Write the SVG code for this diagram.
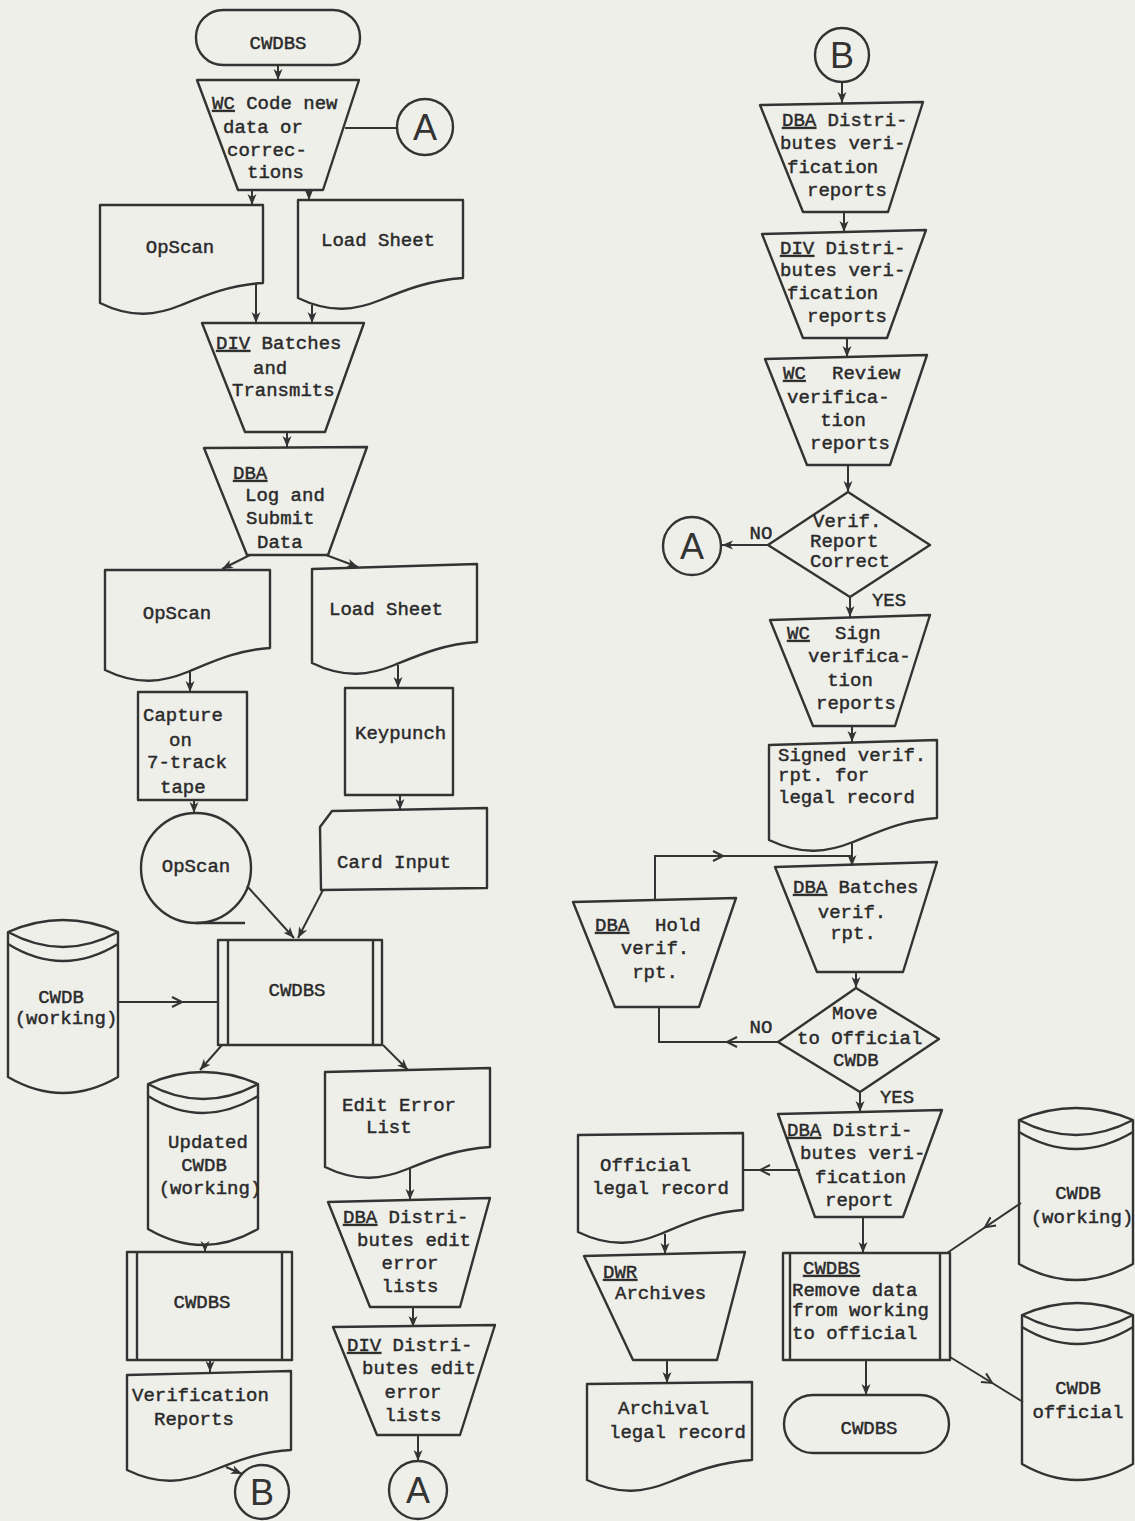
<svg xmlns="http://www.w3.org/2000/svg" width="1135" height="1521" viewBox="0 0 1135 1521">
<style>
.bg { fill: #efefea; }
.s { fill: none; stroke: #333; stroke-width: 2.4; stroke-linejoin: round; }
.c { fill: none; stroke: #333; stroke-width: 2; }
.t { font-family: "Liberation Mono", "DejaVu Sans Mono", monospace; font-size: 19px; fill: #2a2a2a; stroke: #2a2a2a; stroke-width: 0.45; }
.m { text-anchor: middle; }
.u { text-decoration: underline; }
.k { font-family: "Liberation Sans", Arial, sans-serif; font-size: 36px; text-anchor: middle; fill: #333; }
</style>
<defs>
<marker id="ah" markerUnits="userSpaceOnUse" markerWidth="12" markerHeight="10" refX="11" refY="5" orient="auto">
<path d="M0,0.5 L11,5 L0,9.5 L3,5 Z" fill="#333"/>
</marker>
</defs>
<rect class="bg" x="0" y="0" width="1135" height="1521"/>

<!-- ===== left column ===== -->
<g id="start">
<rect class="s" x="196" y="10" width="164" height="55" rx="27"/>
<text class="t m" x="278" y="49">CWDBS</text>
</g>
<g id="wc-code">
<polygon class="s" points="197,80 359,80 323,190 238,190"/>
<text class="t" x="212" y="109"><tspan class="u">WC</tspan> Code new</text>
<text class="t" x="223" y="133">data or</text>
<text class="t" x="227" y="156">correc-</text>
<text class="t" x="247" y="178">tions</text>
</g>
<g id="conn-a1">
<circle class="s" cx="425" cy="127" r="28"/>
<text class="k" x="425" y="140">A</text>
</g>
<g id="opscan-doc1">
<path class="s" d="M100,205 H263 V283 C230.4,285 206,295 181.5,305 C157,315 132.6,319 100,303 Z"/>
<text class="t m" x="180" y="253">OpScan</text>
</g>
<g id="load-sheet1">
<path class="s" d="M298,200 H463 V278 C430,280 405,290 380.5,300 C356,310 331,314 298,298 Z"/>
<text class="t m" x="378" y="246">Load Sheet</text>
</g>
<g id="div-batches">
<polygon class="s" points="202,323 364,323 325,432 245,432"/>
<text class="t" x="216" y="349"><tspan class="u">DIV</tspan> Batches</text>
<text class="t" x="253" y="374">and</text>
<text class="t" x="232" y="396">Transmits</text>
</g>
<g id="dba-log">
<polygon class="s" points="204,448 367,447 328,555 247,555"/>
<text class="t u" x="233" y="479">DBA</text>
<text class="t" x="245" y="501">Log and</text>
<text class="t" x="246" y="524">Submit</text>
<text class="t" x="257" y="548">Data</text>
</g>
<g id="opscan-doc2">
<path class="s" d="M105,570 H270 V648 C237,650 212,662 187.5,672 C163,682 138,686 105,670 Z"/>
<text class="t m" x="177" y="619">OpScan</text>
</g>
<g id="load-sheet2">
<path class="s" d="M312,569 L477,564 V642 C444,644 419,655 394.5,665 C370,675 345,679 312,663 Z"/>
<text class="t m" x="386" y="615">Load Sheet</text>
</g>
<g id="capture">
<rect class="s" x="138" y="692" width="109" height="108"/>
<text class="t" x="143" y="721">Capture</text>
<text class="t" x="169" y="746">on</text>
<text class="t" x="147" y="768">7-track</text>
<text class="t" x="160" y="793">tape</text>
</g>
<g id="keypunch">
<rect class="s" x="345" y="688" width="108" height="107"/>
<text class="t" x="355" y="739">Keypunch</text>
</g>
<g id="opscan-tape">
<circle class="s" cx="196" cy="868" r="55"/>
<line class="s" x1="196" y1="923" x2="245" y2="923"/>
<text class="t m" x="196" y="872">OpScan</text>
</g>
<g id="card-input">
<path class="s" d="M320,827 L332,811 L487,808 V888 L321,890 Z"/>
<text class="t" x="337" y="868">Card Input</text>
</g>
<g id="cwdbs-edit">
<rect class="s" x="218" y="940" width="164" height="105"/>
<line class="s" x1="228" y1="940" x2="228" y2="1045"/>
<line class="s" x1="373" y1="940" x2="373" y2="1045"/>
<text class="t m" x="297" y="996">CWDBS</text>
</g>
<g id="cwdb-working-left">
<path class="s" d="M8,932 Q63,908 118,932 V1077 Q63,1109 8,1077 Z"/>
<path class="s" d="M8,932 Q63,962 118,932"/>
<path class="s" d="M8,944 Q63,978 118,944"/>
<text class="t m" x="61" y="1003">CWDB</text>
<text class="t m" x="66" y="1024">(working)</text>
</g>
<g id="updated-cwdb">
<path class="s" d="M148,1084 Q203,1060 258,1084 V1229 Q203,1261 148,1229 Z"/>
<path class="s" d="M148,1084 Q203,1114 258,1084"/>
<path class="s" d="M148,1096 Q203,1130 258,1096"/>
<text class="t m" x="208" y="1148">Updated</text>
<text class="t m" x="204" y="1171">CWDB</text>
<text class="t m" x="210" y="1194">(working)</text>
</g>
<g id="edit-error-list">
<path class="s" d="M325,1072 L490,1068 V1147 C457,1149 432,1159 407.5,1169 C383,1179 358,1183 325,1167 Z"/>
<text class="t" x="342" y="1111">Edit Error</text>
<text class="t" x="366" y="1133">List</text>
</g>
<g id="cwdbs-verify">
<rect class="s" x="127" y="1252" width="165" height="108"/>
<line class="s" x1="137" y1="1252" x2="137" y2="1360"/>
<line class="s" x1="282" y1="1252" x2="282" y2="1360"/>
<text class="t m" x="202" y="1308">CWDBS</text>
</g>
<g id="verification-reports">
<path class="s" d="M127,1375 L291,1371 V1450 C258,1452 234,1462 209,1472 C184,1482 160,1486 127,1470 Z"/>
<text class="t" x="132" y="1401">Verification</text>
<text class="t" x="154" y="1425">Reports</text>
</g>
<g id="conn-b1">
<circle class="s" cx="262" cy="1492" r="27"/>
<text class="k" x="262" y="1505">B</text>
</g>
<g id="dba-edit-lists">
<polygon class="s" points="328,1202 490,1198 460,1307 370,1307"/>
<text class="t" x="343" y="1223"><tspan class="u">DBA</tspan> Distri-</text>
<text class="t" x="357" y="1246">butes edit</text>
<text class="t m" x="410" y="1269">error</text>
<text class="t m" x="410" y="1292">lists</text>
</g>
<g id="div-edit-lists">
<polygon class="s" points="333,1327 495,1325 460,1435 377,1435"/>
<text class="t" x="347" y="1351"><tspan class="u">DIV</tspan> Distri-</text>
<text class="t" x="362" y="1374">butes edit</text>
<text class="t m" x="413" y="1398">error</text>
<text class="t m" x="413" y="1421">lists</text>
</g>
<g id="conn-a2">
<circle class="s" cx="418" cy="1490" r="29"/>
<text class="k" x="418" y="1503">A</text>
</g>

<!-- ===== right column ===== -->
<g id="conn-b2">
<circle class="s" cx="842" cy="55" r="27"/>
<text class="k" x="842" y="68">B</text>
</g>
<g id="dba-verif-reports">
<polygon class="s" points="760,105 923,102 888,212 803,212"/>
<text class="t" x="782" y="126"><tspan class="u">DBA</tspan> Distri-</text>
<text class="t" x="780" y="149">butes veri-</text>
<text class="t" x="787" y="173">fication</text>
<text class="t" x="807" y="196">reports</text>
</g>
<g id="div-verif-reports">
<polygon class="s" points="762,234 926,230 887,338 803,338"/>
<text class="t" x="780" y="254"><tspan class="u">DIV</tspan> Distri-</text>
<text class="t" x="780" y="276">butes veri-</text>
<text class="t" x="787" y="299">fication</text>
<text class="t" x="807" y="322">reports</text>
</g>
<g id="wc-review">
<polygon class="s" points="765,359 927,355 890,465 807,465"/>
<text class="t u" x="783" y="379">WC</text>
<text class="t" x="832" y="379">Review</text>
<text class="t" x="787" y="403">verifica-</text>
<text class="t m" x="843" y="426">tion</text>
<text class="t" x="810" y="449">reports</text>
</g>
<g id="verif-correct">
<polygon class="s" points="848,492 930,545 850,597 768,545"/>
<text class="t" x="813" y="527">Verif.</text>
<text class="t" x="810" y="547">Report</text>
<text class="t" x="810" y="567">Correct</text>
</g>
<g id="conn-a3">
<circle class="s" cx="692" cy="546" r="29"/>
<text class="k" x="692" y="559">A</text>
</g>
<g id="wc-sign">
<polygon class="s" points="770,620 930,615 895,726 813,726"/>
<text class="t u" x="787" y="639">WC</text>
<text class="t" x="835" y="639">Sign</text>
<text class="t" x="808" y="662">verifica-</text>
<text class="t m" x="850" y="686">tion</text>
<text class="t" x="816" y="709">reports</text>
</g>
<g id="signed-report">
<path class="s" d="M769,745 L937,740 V818 C903,820 878,832 853,842 C828,852 803,856 769,840 Z"/>
<text class="t" x="778" y="761">Signed verif.</text>
<text class="t" x="778" y="781">rpt. for</text>
<text class="t" x="778" y="803">legal record</text>
</g>
<g id="dba-batches">
<polygon class="s" points="775,867 937,862 903,972 817,972"/>
<text class="t" x="793" y="893"><tspan class="u">DBA</tspan> Batches</text>
<text class="t m" x="852" y="918">verif.</text>
<text class="t m" x="853" y="939">rpt.</text>
</g>
<g id="dba-hold">
<polygon class="s" points="573,902 736,898 699,1007 615,1007"/>
<text class="t u" x="595" y="931">DBA</text>
<text class="t" x="655" y="931">Hold</text>
<text class="t m" x="655" y="954">verif.</text>
<text class="t m" x="655" y="978">rpt.</text>
</g>
<g id="move-official">
<polygon class="s" points="856,988 939,1039 860,1092 778,1042"/>
<text class="t" x="832" y="1019">Move</text>
<text class="t" x="797" y="1044">to Official</text>
<text class="t" x="833" y="1066">CWDB</text>
</g>
<g id="dba-verif-report">
<polygon class="s" points="778,1114 942,1110 903,1217 815,1217"/>
<text class="t" x="787" y="1136"><tspan class="u">DBA</tspan> Distri-</text>
<text class="t" x="800" y="1159">butes veri-</text>
<text class="t" x="815" y="1183">fication</text>
<text class="t" x="825" y="1206">report</text>
</g>
<g id="official-record">
<path class="s" d="M578,1135 L743,1133 V1210 C710,1212 685,1224 660.5,1234 C636,1244 611,1248 578,1232 Z"/>
<text class="t" x="600" y="1171">Official</text>
<text class="t" x="592" y="1194">legal record</text>
</g>
<g id="dwr-archives">
<polygon class="s" points="584,1256 745,1252 717,1360 633,1360"/>
<text class="t u" x="603" y="1278">DWR</text>
<text class="t" x="615" y="1299">Archives</text>
</g>
<g id="archival-record">
<path class="s" d="M587,1384 L752,1382 V1460 C719,1462 694,1472 669.5,1482 C645,1492 620,1496 587,1480 Z"/>
<text class="t" x="618" y="1414">Archival</text>
<text class="t" x="609" y="1438">legal record</text>
</g>
<g id="cwdbs-move">
<rect class="s" x="783" y="1253" width="167" height="107"/>
<line class="s" x1="790" y1="1253" x2="790" y2="1360"/>
<line class="s" x1="940" y1="1253" x2="940" y2="1360"/>
<text class="t u" x="803" y="1274">CWDBS</text>
<text class="t" x="792" y="1296">Remove data</text>
<text class="t" x="792" y="1316">from working</text>
<text class="t" x="792" y="1339">to official</text>
</g>
<g id="end">
<rect class="s" x="784" y="1395" width="165" height="58" rx="29"/>
<text class="t m" x="869" y="1434">CWDBS</text>
</g>
<g id="cwdb-working-right">
<path class="s" d="M1019,1120 Q1076,1096 1133,1120 V1264 Q1076,1296 1019,1264 Z"/>
<path class="s" d="M1019,1120 Q1076,1150 1133,1120"/>
<path class="s" d="M1019,1132 Q1076,1166 1133,1132"/>
<text class="t m" x="1078" y="1199">CWDB</text>
<text class="t m" x="1082" y="1223">(working)</text>
</g>
<g id="cwdb-official">
<path class="s" d="M1022,1315 Q1077.5,1291 1133,1315 V1464 Q1077.5,1496 1022,1464 Z"/>
<path class="s" d="M1022,1315 Q1077.5,1345 1133,1315"/>
<path class="s" d="M1022,1327 Q1077.5,1361 1133,1327"/>
<text class="t m" x="1078" y="1394">CWDB</text>
<text class="t m" x="1078" y="1418">official</text>
</g>

<!-- ===== connectors ===== -->
<g id="connectors">
<line class="c" x1="345" y1="128" x2="396" y2="128"/>
<g marker-end="url(#ah)">
<line class="c" x1="278" y1="65" x2="278" y2="80"/>
<line class="c" x1="252" y1="190" x2="252" y2="205"/>
<line class="c" x1="309" y1="190" x2="309" y2="200"/>
<line class="c" x1="256" y1="284" x2="256" y2="323"/>
<line class="c" x1="312" y1="305" x2="312" y2="323"/>
<line class="c" x1="287" y1="432" x2="287" y2="447"/>
<line class="c" x1="250" y1="555" x2="222" y2="569"/>
<line class="c" x1="326" y1="555" x2="358" y2="567"/>
<line class="c" x1="190" y1="672" x2="190" y2="692"/>
<line class="c" x1="398" y1="665" x2="398" y2="688"/>
<line class="c" x1="194" y1="800" x2="194" y2="813"/>
<line class="c" x1="400" y1="795" x2="400" y2="810"/>
<line class="c" x1="247" y1="886" x2="294" y2="938"/>
<line class="c" x1="323" y1="890" x2="298" y2="938"/>
<line class="c" x1="222" y1="1045" x2="200" y2="1070"/>
<line class="c" x1="383" y1="1045" x2="408" y2="1070"/>
<line class="c" x1="205" y1="1244" x2="205" y2="1252"/>
<line class="c" x1="410" y1="1169" x2="410" y2="1200"/>
<line class="c" x1="210" y1="1360" x2="210" y2="1372"/>
<line class="c" x1="226" y1="1467" x2="242" y2="1474"/>
<line class="c" x1="413" y1="1307" x2="413" y2="1327"/>
<line class="c" x1="418" y1="1435" x2="418" y2="1461"/>
<line class="c" x1="842" y1="82" x2="842" y2="103"/>
<line class="c" x1="844" y1="212" x2="844" y2="232"/>
<line class="c" x1="847" y1="338" x2="847" y2="357"/>
<line class="c" x1="848" y1="465" x2="848" y2="492"/>
<line class="c" x1="768" y1="545" x2="722" y2="545"/>
<line class="c" x1="850" y1="597" x2="850" y2="617"/>
<line class="c" x1="852" y1="726" x2="852" y2="742"/>
<line class="c" x1="852" y1="842" x2="852" y2="866"/>
<line class="c" x1="856" y1="972" x2="856" y2="988"/>
<line class="c" x1="860" y1="1092" x2="860" y2="1112"/>
<line class="c" x1="665" y1="1234" x2="665" y2="1254"/>
<line class="c" x1="667" y1="1360" x2="667" y2="1383"/>
<line class="c" x1="863" y1="1217" x2="863" y2="1253"/>
<line class="c" x1="866" y1="1360" x2="866" y2="1395"/>
</g>
<!-- flow lines with an open arrowhead along the run -->
<line class="c" x1="118" y1="1002" x2="218" y2="1002"/>
<path class="c" d="M172,997 L182,1002 L172,1007"/>
<path class="c" d="M655,900 V856 H852"/>
<path class="c" d="M713,851 L723,856 L713,861"/>
<path class="c" d="M778,1042 H659 V1007"/>
<path class="c" d="M737,1037 L727,1042 L737,1047"/>
<line class="c" x1="800" y1="1170" x2="743" y2="1170"/>
<path class="c" d="M770,1165 L760,1170 L770,1175"/>
<line class="c" x1="1021" y1="1203" x2="947" y2="1253"/>
<path class="c" d="M996.1,1225.5 L985,1227.3 L990.5,1217.3"/>
<line class="c" x1="950" y1="1357" x2="1023" y2="1402"/>
<path class="c" d="M980.9,1381.9 L992,1382.9 L986.1,1373.4"/>
<text class="t m" x="761" y="539">NO</text>
<text class="t m" x="889" y="606">YES</text>
<text class="t m" x="761" y="1033">NO</text>
<text class="t m" x="897" y="1103">YES</text>
</g>
</svg>
